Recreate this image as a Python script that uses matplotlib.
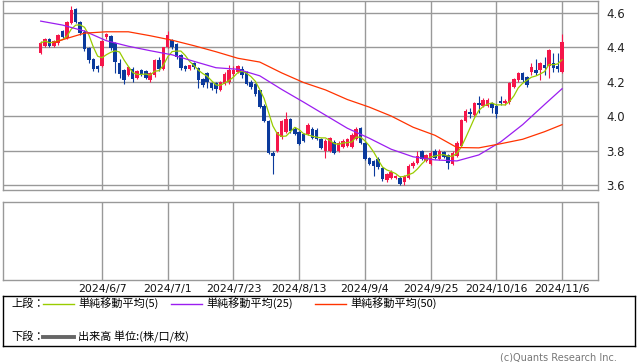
import matplotlib.pyplot as plt
from matplotlib.lines import Line2D
import pandas as pd

# daily candles (price), oldest first
opens = [4.368, 4.409, 4.448, 4.409, 4.423, 4.495, 4.456, 4.543, 4.622, 4.547,
         4.491, 4.397, 4.331, 4.292, 4.292, 4.460, 4.465, 4.426, 4.308, 4.267,
         4.241, 4.277, 4.224, 4.267, 4.263, 4.208, 4.237, 4.329, 4.277, 4.403,
         4.442, 4.419, 4.354, 4.290, 4.277, 4.308, 4.278, 4.214, 4.249, 4.192,
         4.192, 4.154, 4.189, 4.198, 4.243, 4.257, 4.277, 4.257, 4.198, 4.189,
         4.150, 4.062, 3.974, 3.789, 3.799, 3.877, 3.906, 3.984, 3.926, 3.906,
         3.898, 3.898, 3.927, 3.922, 3.869, 3.799, 3.799, 3.851, 3.799, 3.822,
         3.828, 3.822, 3.869, 3.933, 3.846, 3.758, 3.740, 3.752, 3.699, 3.629,
         3.641, 3.641, 3.641, 3.618, 3.641, 3.711, 3.729, 3.799, 3.740, 3.723,
         3.799, 3.752, 3.793, 3.775, 3.723, 3.770, 3.828, 3.974, 4.023, 4.009,
         4.075, 4.062, 4.062, 4.074, 4.062, 4.091, 4.074, 4.080, 4.170, 4.208,
         4.249, 4.226, 4.255, 4.267, 4.267, 4.296, 4.290, 4.308, 4.290, 4.255]
highs = [4.435, 4.455, 4.456, 4.445, 4.480, 4.500, 4.555, 4.641, 4.632, 4.555,
         4.500, 4.405, 4.340, 4.300, 4.445, 4.483, 4.470, 4.430, 4.330, 4.275,
         4.290, 4.285, 4.270, 4.275, 4.270, 4.260, 4.335, 4.345, 4.405, 4.495,
         4.450, 4.425, 4.360, 4.300, 4.300, 4.315, 4.285, 4.220, 4.255, 4.200,
         4.200, 4.205, 4.255, 4.296, 4.290, 4.300, 4.290, 4.265, 4.210, 4.195,
         4.155, 4.070, 3.980, 3.795, 3.910, 3.980, 4.025, 3.990, 3.935, 3.915,
         3.905, 3.960, 3.935, 3.930, 3.875, 3.865, 3.880, 3.860, 3.855, 3.865,
         3.875, 3.900, 3.935, 3.940, 3.850, 3.765, 3.745, 3.760, 3.705, 3.670,
         3.685, 3.660, 3.650, 3.660, 3.720, 3.740, 3.800, 3.805, 3.782, 3.795,
         3.810, 3.810, 3.800, 3.780, 3.800, 3.855, 3.985, 4.040, 4.050, 4.080,
         4.120, 4.105, 4.105, 4.080, 4.070, 4.120, 4.100, 4.200, 4.220, 4.260,
         4.255, 4.235, 4.310, 4.330, 4.315, 4.345, 4.390, 4.370, 4.370, 4.476]
lows = [4.360, 4.400, 4.403, 4.400, 4.415, 4.455, 4.450, 4.535, 4.540, 4.475,
        4.380, 4.307, 4.265, 4.260, 4.285, 4.450, 4.385, 4.250, 4.220, 4.185,
        4.235, 4.200, 4.215, 4.235, 4.215, 4.200, 4.230, 4.265, 4.270, 4.395,
        4.390, 4.335, 4.267, 4.265, 4.270, 4.275, 4.167, 4.170, 4.167, 4.155,
        4.137, 4.145, 4.180, 4.190, 4.235, 4.250, 4.225, 4.180, 4.160, 4.120,
        4.045, 3.965, 3.780, 3.666, 3.790, 3.870, 3.900, 3.905, 3.890, 3.830,
        3.850, 3.890, 3.865, 3.860, 3.810, 3.758, 3.790, 3.780, 3.790, 3.815,
        3.820, 3.815, 3.860, 3.840, 3.745, 3.715, 3.652, 3.695, 3.625, 3.620,
        3.635, 3.635, 3.600, 3.600, 3.635, 3.700, 3.720, 3.745, 3.735, 3.715,
        3.750, 3.745, 3.755, 3.693, 3.715, 3.765, 3.820, 3.965, 3.990, 4.000,
        4.017, 4.055, 4.055, 4.021, 3.992, 4.065, 4.065, 4.070, 4.165, 4.200,
        4.200, 4.170, 4.240, 4.240, 4.210, 4.240, 4.220, 4.255, 4.260, 4.250]
closes = [4.426, 4.448, 4.409, 4.436, 4.475, 4.460, 4.547, 4.618, 4.549, 4.483,
          4.388, 4.325, 4.272, 4.277, 4.438, 4.477, 4.394, 4.315, 4.243, 4.212,
          4.286, 4.214, 4.261, 4.243, 4.224, 4.251, 4.329, 4.277, 4.400, 4.471,
          4.403, 4.343, 4.278, 4.272, 4.296, 4.284, 4.208, 4.179, 4.197, 4.165,
          4.160, 4.198, 4.247, 4.267, 4.267, 4.290, 4.237, 4.189, 4.169, 4.130,
          4.052, 3.974, 3.789, 3.770, 3.906, 3.974, 3.984, 3.916, 3.897, 3.838,
          3.857, 3.951, 3.875, 3.870, 3.817, 3.857, 3.875, 3.787, 3.846, 3.857,
          3.869, 3.892, 3.927, 3.846, 3.752, 3.723, 3.711, 3.705, 3.635, 3.664,
          3.676, 3.653, 3.606, 3.653, 3.711, 3.729, 3.770, 3.752, 3.775, 3.787,
          3.758, 3.799, 3.764, 3.729, 3.787, 3.846, 3.980, 4.033, 4.013, 4.074,
          4.068, 4.097, 4.097, 4.050, 4.015, 4.074, 4.091, 4.196, 4.214, 4.249,
          4.208, 4.179, 4.284, 4.249, 4.308, 4.278, 4.384, 4.278, 4.272, 4.430]

# longer averages (they need history before the window)
ma25_idx = [0, 5, 10, 15, 20, 25, 30, 35, 40, 45, 50, 55, 60, 65, 70, 75,
            80, 85, 90, 95, 100, 105, 110, 115, 119]
ma25_val = [4.553, 4.530, 4.495, 4.439, 4.407, 4.381, 4.357, 4.319, 4.282,
            4.273, 4.235, 4.156, 4.082, 4.006, 3.930, 3.872, 3.808, 3.764,
            3.746, 3.740, 3.775, 3.851, 3.951, 4.068, 4.160]
ma50_idx = [3, 5, 10, 15, 20, 25, 30, 35, 40, 45, 50, 55, 60, 65, 70, 75,
            80, 85, 90, 95, 100, 105, 110, 115, 119]
ma50_val = [4.427, 4.445, 4.483, 4.491, 4.491, 4.468, 4.442, 4.410, 4.375,
            4.337, 4.315, 4.252, 4.196, 4.153, 4.097, 4.053, 4.001, 3.936,
            3.889, 3.818, 3.816, 3.840, 3.866, 3.910, 3.951]

tick_labels = ["2024/6/7", "2024/7/1", "2024/7/23", "2024/8/13",
               "2024/9/4", "2024/9/25", "2024/10/16", "2024/11/6"]
tick_idx = [14 + 15 * k for k in range(len(tick_labels))]
y_ticks = [3.6, 3.8, 4.0, 4.2, 4.4, 4.6]

up_color = "#f5164a"
down_color = "#0b3a9c"
grid_color = "#999999"
ma_colors = {"5": "#99cc00", "25": "#9b1df0", "50": "#ff3300"}

W, H = 638, 362
def rect(x0, y0, x1, y1):
    return [x0 / W, 1 - y1 / H, (x1 - x0) / W, (y1 - y0) / H]

fig = plt.figure(figsize=(W / 100, H / 100), dpi=100)
ax = fig.add_axes(rect(3, 1, 598, 190))
axv = fig.add_axes(rect(3, 202, 598, 280))

n = len(closes)
xs = list(range(n))
cols = [up_color if c >= o else down_color for o, c in zip(opens, closes)]
bottoms = [min(o, c) for o, c in zip(opens, closes)]
heights = [max(abs(c - o), 0.004) for o, c in zip(opens, closes)]

ax.vlines(xs, lows, highs, colors=cols, linewidth=0.8, zorder=3)
ax.bar(xs, heights, bottom=bottoms, width=0.8, color=cols, linewidth=0, zorder=4)

ma5 = pd.Series(closes).rolling(5, min_periods=1).mean()
ax.plot(xs, ma5, color=ma_colors["5"], lw=0.9, zorder=5)
ax.plot(ma25_idx, ma25_val, color=ma_colors["25"], lw=0.9, zorder=5)
ax.plot(ma50_idx, ma50_val, color=ma_colors["50"], lw=0.9, zorder=5)

for a in (ax, axv):
    a.set_xlim(-8.6, 127.2)
    a.set_xticks(tick_idx)
    a.grid(axis="x", color=grid_color, lw=1.0)
    a.set_axisbelow(True)
    for s in a.spines.values():
        s.set_color(grid_color)
        s.set_linewidth(1.0)
    a.tick_params(length=0)

ax.set_ylim(3.571, 4.670)
ax.set_yticks(y_ticks)
ax.set_yticklabels([f"{v:.1f}" for v in y_ticks])
ax.yaxis.tick_right()
ax.tick_params(axis="y", pad=6, labelsize=8.5, colors="#222222")
ax.grid(axis="y", color=grid_color, lw=1.0)
ax.set_xticklabels([])

axv.set_yticks([])
axv.set_ylim(0, 1)
axv.set_xticklabels(tick_labels, fontsize=7.8, color="#111111")
axv.tick_params(axis="x", pad=3)

# legend box
lg = fig.add_axes(rect(3, 296, 635, 346))
lg.set_xlim(0, 632)
lg.set_ylim(50, 0)
lg.set_xticks([])
lg.set_yticks([])
for s in lg.spines.values():
    s.set_color("black")
    s.set_linewidth(1.0)
jp = ["Noto Sans CJK JP", "DejaVu Sans"]
fs = 8
lg.text(8, 7.5, "上段：", family=jp, fontsize=fs, va="center")
items = [("5", 40, "単純移動平均(5)"), ("25", 168, "単純移動平均(25)"),
         ("50", 312, "単純移動平均(50)")]
for key, x0, label in items:
    lg.add_line(Line2D([x0, x0 + 31], [7.5, 7.5], color=ma_colors[key], lw=1.0))
    lg.text(x0 + 35, 7.5, label, family=jp, fontsize=fs, va="center")
lg.text(8, 40.5, "下段：", family=jp, fontsize=fs, va="center")
lg.add_line(Line2D([40, 71], [40.5, 40.5], color="#666666", lw=2.8))
lg.text(75, 40.5, "出来高 単位:(株/口/枚)", family=jp, fontsize=fs, va="center")

fig.text(617 / W, 1 - 357 / H, "(c)Quants Research Inc.", ha="right",
         va="center", fontsize=7, color="#777777")

fig.savefig("out.png", dpi=100)
